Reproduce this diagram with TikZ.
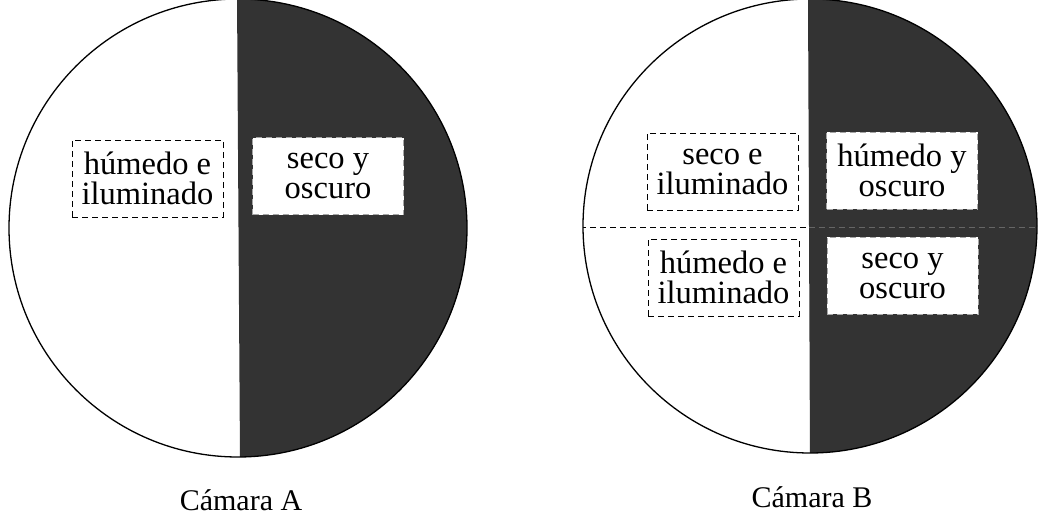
\documentclass[tikz,border=0pt]{standalone}
\usepackage{fontspec}
\setmainfont{Liberation Serif}
\usetikzlibrary{positioning}

\tikzset{
  cuarto/.style={fill=black!80},
  clara/.style={draw, dashed, dash pattern=on 6pt off 4pt, line width=1pt, align=center,
    minimum width=151pt, minimum height=77pt, inner sep=0pt, font=\fontsize{32.5}{30}\selectfont},
  oscura/.style={clara, fill=white, draw=black!35},
  camara/.style={font=\fontsize{30}{30}\selectfont}
}

\begin{document}
\begin{tikzpicture}[x=1pt, y=-1pt]
\useasboundingbox (0,0) rectangle (1039,522);

% Camara A
\begin{scope}
\clip (238,228) circle [radius=229];
\fill[cuarto] (237,-5) -- (240,460) -- (480,460) -- (480,-5) -- cycle;
\end{scope}
\draw[line width=1.3pt] (238,228) circle [radius=229];
\node[clara] (hiA) at (147.5,178.5) {húmedo e\\iluminado};
\node[oscura] (soA) at (328,176) {seco y\\oscuro};
\node[camara] (camA) at (241,500) {Cámara A};

% Camara B
\begin{scope}
\clip (810,226) circle [radius=227];
\fill[cuarto] (808,-5) -- (810,460) -- (1045,460) -- (1045,-5) -- cycle;
\draw[dashed, dash pattern=on 6pt off 4pt, line width=1pt] (580,227) -- (809,227);
\draw[black!60, dashed, dash pattern=on 6pt off 4pt, line width=0.8pt] (809,227) -- (1045,227);
\end{scope}
\draw[line width=1.3pt] (810,226) circle [radius=227];
\node[clara] (siB) at (722.5,171.5) {seco e\\iluminado};
\node[oscura] (hoB) at (902,170.5) {húmedo y\\oscuro};
\node[clara] (hiB) at (723.5,277.5) {húmedo e\\iluminado};
\node[oscura] (soB) at (902.5,275.5) {seco y\\oscuro};
\node[camara] (camB) at (812,497) {Cámara B};
\end{tikzpicture}
\end{document}
